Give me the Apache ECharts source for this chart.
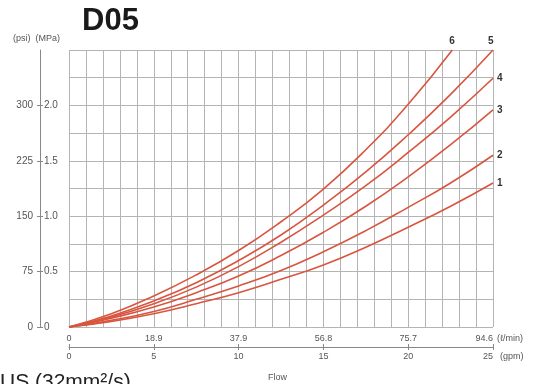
<!DOCTYPE html>
<html>
<head>
<meta charset="utf-8">
<script src="https://cdn.jsdelivr.net/npm/echarts@6/dist/echarts.min.js"></script>
<style>html,body{margin:0;padding:0;background:#fff}#c{width:534px;height:384px}</style>
</head>
<body>
<div id="c"></div>
<script>
// ---- data ----
const gpm = [0, 2.5, 5, 7.5, 10, 12.5, 15, 17.5, 20, 22.5, 25];
const curve1 = [0, 0.05, 0.12, 0.21, 0.31, 0.43, 0.56, 0.72, 0.90, 1.09, 1.30];
const curve2 = [0, 0.06, 0.14, 0.25, 0.37, 0.51, 0.68, 0.87, 1.08, 1.30, 1.55];
const curve3 = [0, 0.08, 0.18, 0.31, 0.46, 0.645, 0.855, 1.09, 1.355, 1.645, 1.96];
const curve4 = [0, 0.09, 0.21, 0.36, 0.545, 0.765, 1.01, 1.275, 1.575, 1.895, 2.245];
const curve5 = [0, 0.10, 0.235, 0.40, 0.60, 0.83, 1.10, 1.40, 1.735, 2.10, 2.50];
const gpm6 = [0, 2.5, 5, 7.5, 10, 12.5, 15, 17.5, 20, 22.6];
const curve6 = [0, 0.12, 0.28, 0.47, 0.69, 0.95, 1.245, 1.60, 2.01, 2.50];
const curveNames = ['1', '2', '3', '4', '5', '6'];
const lpmLabels = ['0', '18.9', '37.9', '56.8', '75.7', '94.6'];
const gpmLabels = ['0', '5', '10', '15', '20', '25'];
const mpaTicks = [0, 0.5, 1.0, 1.5, 2.0];
const mpaLabels = ['0', '0.5', '1.0', '1.5', '2.0'];
const psiLabels = ['0', '75', '150', '225', '300'];

const FONT = '"Liberation Sans", Arial, Helvetica, sans-serif';
const RED = '#d8553f';
const GRID = '#b4b4b4';
const TXT = '#555';
const AX = '#888';

function pairs(xs, ys) { return xs.map((x, i) => [x, ys[i]]); }
function lab(arr, step) { return v => { const i = Math.round(v / step); return (Math.abs(v - i * step) < 1e-6 && arr[i] !== undefined) ? arr[i] : ''; }; }

const seriesData = [pairs(gpm, curve1), pairs(gpm, curve2), pairs(gpm, curve3), pairs(gpm, curve4), pairs(gpm, curve5), pairs(gpm6, curve6)];
const endOffsets = [[0, 0], [0, 0], [0, 0], [0, 0], [-9, -9], [-7, -9]];

const chart = echarts.init(document.getElementById('c'), null, { renderer: 'canvas' });
chart.setOption({
  animation: false,
  backgroundColor: '#fff',
  textStyle: { fontFamily: FONT },
  title: {
    text: 'D05', left: 82, top: 6, padding: 0,
    textStyle: { fontSize: 31, fontWeight: 'bold', color: '#1a1a1a', fontFamily: FONT }
  },
  grid: { left: 69, right: 41, top: 50, bottom: 57, containLabel: false },
  xAxis: [
    { type: 'value', min: 0, max: 25, interval: 1, axisLine: { show: false, onZero: false }, axisTick: { show: false }, axisLabel: { show: false },
      splitLine: { show: true, lineStyle: { color: GRID, width: 1 } } },
    { type: 'value', position: 'bottom', offset: 0, min: 0, max: 25, interval: 5, axisLine: { show: false, onZero: false }, axisTick: { show: false },
      splitLine: { show: false }, axisLabel: { margin: 7, fontSize: 9, color: TXT, alignMaxLabel: 'right', formatter: lab(lpmLabels, 5) } },
    { type: 'value', position: 'bottom', offset: 20, min: 0, max: 25, interval: 5, axisLine: { show: true, onZero: false, lineStyle: { color: AX, width: 1 } },
      axisTick: { show: true, length: 3, lineStyle: { color: AX } }, splitLine: { show: false },
      axisLabel: { margin: 5, fontSize: 9, color: TXT, alignMaxLabel: 'right', formatter: lab(gpmLabels, 5) } },
    { type: 'value', position: 'bottom', offset: 20, min: 0, max: 25, interval: 5, axisLine: { show: false, onZero: false },
      axisTick: { show: true, inside: true, length: 3, lineStyle: { color: AX } }, splitLine: { show: false }, axisLabel: { show: false } }
  ],
  yAxis: [
    { type: 'value', min: 0, max: 2.5, interval: 0.25, axisLine: { show: false, onZero: false }, axisTick: { show: false }, axisLabel: { show: false },
      splitLine: { show: true, lineStyle: { color: GRID, width: 1 } } },
    { type: 'value', position: 'left', offset: 29, min: 0, max: 2.5, interval: 0.5,
      axisLine: { show: true, onZero: false, lineStyle: { color: AX, width: 1 } },
      axisTick: { show: true, inside: true, length: 3, customValues: mpaTicks, lineStyle: { color: AX } }, splitLine: { show: false },
      axisLabel: { inside: true, margin: 4, fontSize: 10, color: TXT, formatter: lab(mpaLabels, 0.5) } },
    { type: 'value', position: 'left', offset: 29, min: 0, max: 2.5, interval: 0.5, axisLine: { show: false, onZero: false },
      axisTick: { show: true, length: 3, customValues: mpaTicks, lineStyle: { color: AX } }, splitLine: { show: false },
      axisLabel: { margin: 7, fontSize: 10, color: TXT, formatter: lab(psiLabels, 0.5) } }
  ],
  series: seriesData.map((d, i) => ({
    type: 'line', name: curveNames[i], data: d, xAxisIndex: 0, yAxisIndex: 0,
    smooth: true, showSymbol: false, clip: false,
    lineStyle: { color: RED, width: 1.6 },
    endLabel: { show: true, formatter: curveNames[i], color: '#333', fontSize: 10, fontWeight: 'bold', distance: 4, offset: endOffsets[i] }
  })),
  graphic: [
    { type: 'text', left: 13, top: 34, style: { text: '(psi)  (MPa)', font: '9px ' + FONT, fill: TXT } },
    { type: 'text', left: 497, top: 334, style: { text: '(ℓ/min)', font: '9px ' + FONT, fill: TXT } },
    { type: 'text', left: 500, top: 352, style: { text: '(gpm)', font: '9px ' + FONT, fill: TXT } },
    { type: 'text', left: 268, top: 373, style: { text: 'Flow', font: '9px ' + FONT, fill: TXT } },
    { type: 'text', left: 0, top: 372, style: { text: 'US (32mm²/s)', font: '21px ' + FONT, fill: '#222' } }
  ]
});
</script>
</body>
</html>
